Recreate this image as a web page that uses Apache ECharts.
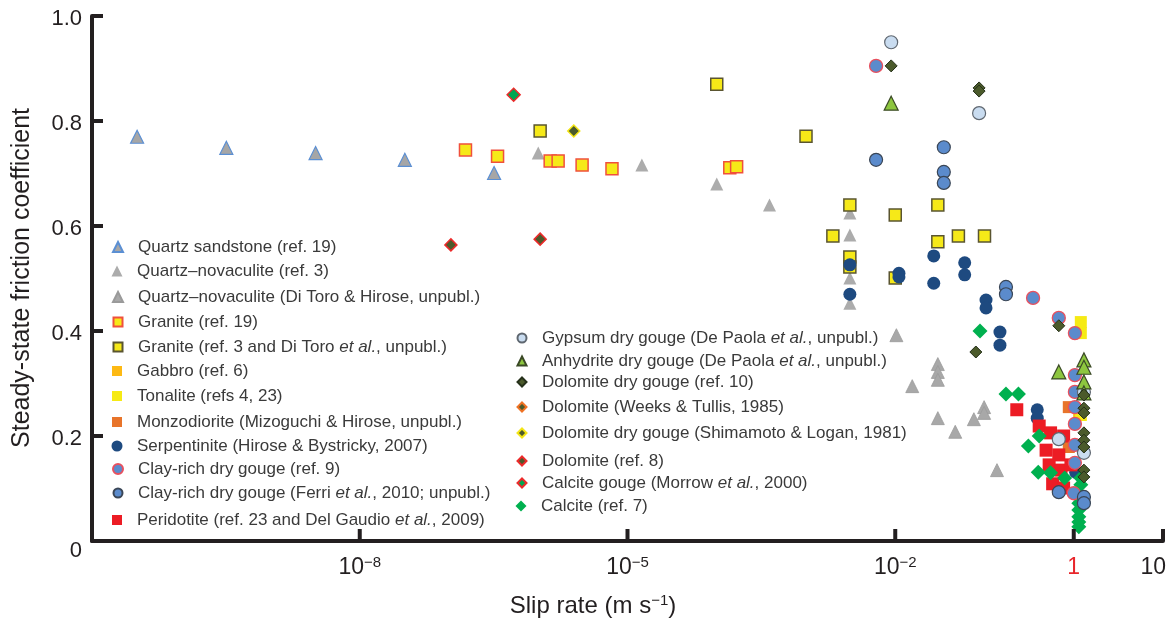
<!DOCTYPE html>
<html><head><meta charset="utf-8">
<script src="https://cdn.jsdelivr.net/npm/echarts@6/dist/echarts.min.js"></script>
<style>html,body{margin:0;padding:0;background:#fff}#c{width:1174px;height:623px}</style>
</head><body><div id="c"></div>
<script>
// ---------- DATA (slip rate in m/s, steady-state friction coefficient) ----------
const xTicks = [1e-8, 1e-5, 1e-2, 1, 10];
const xTickLabels = ['10^−8', '10^−5', '10^−2', '1', '10'];
const yTicks = [0, 0.2, 0.4, 0.6, 0.8, 1.0];

const quartzSandstone = [[3.2e-11,0.770],[3.2e-10,0.749],[3.2e-9,0.739],[3.2e-8,0.726],[3.2e-7,0.701]];
const quartzNovRef3 = [[1.0e-6,0.739],[1.45e-5,0.716],[1.0e-4,0.680],[3.9e-4,0.640],[3.1e-3,0.625],[3.1e-3,0.583],[3.1e-3,0.501],[3.1e-3,0.453]];
const quartzNovDiToro = [[1.03e-2,0.392],[3.0e-2,0.337],[3.0e-2,0.322],[3.0e-2,0.307],[1.55e-2,0.295],[3.0e-2,0.234],[4.7e-2,0.208],[7.6e-2,0.232],[9.9e-2,0.255],[9.9e-2,0.244],[1.38e-1,0.135]];
const graniteRef19 = [[1.53e-7,0.745],[3.5e-7,0.733],[1.36e-6,0.724],[1.67e-6,0.724],[3.1e-6,0.716],[6.7e-6,0.709],[1.4e-4,0.711],[1.67e-4,0.713]];
const graniteRef3 = [[1.05e-6,0.781],[1.0e-4,0.870],[1.0e-3,0.771],[3.1e-3,0.640],[1.0e-2,0.621],[3.0e-2,0.640],[2.0e-3,0.581],[5.1e-2,0.581],[1.0e-1,0.581],[3.0e-2,0.570],[3.1e-3,0.541],[3.1e-3,0.522],[1.0e-2,0.501]];
const gabbro = [[1.15,0.245]];
const tonalite = [[1.2,0.417],[1.2,0.396],[1.2,0.240]];
const monzodiorite = [[0.88,0.255],[0.88,0.179]];
const serpentinite = [[3.1e-3,0.526],[3.1e-3,0.470],[1.1e-2,0.510],[1.1e-2,0.503],[2.7e-2,0.543],[2.7e-2,0.491],[6.0e-2,0.530],[6.0e-2,0.507],[1.04e-1,0.459],[1.04e-1,0.444],[1.49e-1,0.398],[1.49e-1,0.373],[3.9e-1,0.250],[3.9e-1,0.234],[1.05,0.131]];
const clayRef9 = [[6.1e-3,0.905],[3.5e-1,0.463],[6.8e-1,0.425],[1.03,0.396],[1.03,0.316],[1.03,0.284],[1.03,0.255],[1.03,0.223],[1.03,0.183],[1.03,0.149],[1.0,0.091]];
const clayFerri = [[6.1e-3,0.726],[3.5e-2,0.750],[3.5e-2,0.703],[3.5e-2,0.682],[1.74e-1,0.484],[1.74e-1,0.470],[6.8e-1,0.093],[1.3,0.084],[1.3,0.072]];
const peridotite = [[2.3e-1,0.250],[4.1e-1,0.219],[5.5e-1,0.206],[7.7e-1,0.200],[4.9e-1,0.173],[6.8e-1,0.164],[5.3e-1,0.145],[7.2e-1,0.135],[5.8e-1,0.109],[7.7e-1,0.101],[9.3e-1,0.145]];
const gypsum = [[9.0e-3,0.950],[8.7e-2,0.815],[6.8e-1,0.194],[1.3,0.168],[1.3,0.284]];
const anhydrite = [[9.0e-3,0.834],[6.8e-1,0.322],[1.3,0.345],[1.3,0.331],[1.3,0.303],[1.3,0.282]];
const dolomiteRef10 = [[9.0e-3,0.905],[8.7e-2,0.863],[8.7e-2,0.857],[8.0e-2,0.360],[6.8e-1,0.410],[1.3,0.278],[1.3,0.253],[1.3,0.244],[1.3,0.206],[1.3,0.192],[1.3,0.179],[1.3,0.135],[1.3,0.122]];
const dolomiteWeeks = [];
const dolomiteShimamoto = [[2.5e-6,0.781]];
const dolomiteRef8 = [[1.05e-7,0.564],[1.05e-6,0.575]];
const calciteMorrow = [[5.3e-7,0.850]];
const calciteRef7 = [[8.9e-2,0.400],[1.74e-1,0.280],[2.4e-1,0.280],[4.1e-1,0.200],[3.1e-1,0.181],[4.0e-1,0.131],[5.5e-1,0.130],[7.9e-1,0.120],[1.2,0.120],[1.2,0.107],[1.14,0.088],[1.14,0.072],[1.14,0.059],[1.14,0.046],[1.14,0.036],[1.14,0.027]];

// ---------- STYLE ----------
const FONT = 'Liberation Sans, Arial, Helvetica, sans-serif';
const INK = '#231f20';
const TXT = '#3a3a3a';

function sc(name, data, symbol, size, color, border, bw, z) {
  return {
    type: 'scatter', name: name, data: data, symbol: symbol, symbolSize: size, z: z || 2,
    itemStyle: { color: color, borderColor: border || color, borderWidth: border ? (bw || 1) : 0, opacity: 1 },
    emphasis: { disabled: true }, silent: true
  };
}

const N = {
  qs: 'Quartz sandstone (ref. 19)',
  qn3: 'Quartz–novaculite (ref. 3)',
  qnd: 'Quartz–novaculite (Di Toro & Hirose, unpubl.)',
  g19: 'Granite (ref. 19)',
  g3: 'Granite (ref. 3 and Di Toro et al., unpubl.)',
  gab: 'Gabbro (ref. 6)',
  ton: 'Tonalite (refs 4, 23)',
  mon: 'Monzodiorite (Mizoguchi & Hirose, unpubl.)',
  ser: 'Serpentinite (Hirose & Bystricky, 2007)',
  c9: 'Clay-rich dry gouge (ref. 9)',
  cf: 'Clay-rich dry gouge (Ferri et al., 2010; unpubl.)',
  per: 'Peridotite (ref. 23 and Del Gaudio et al., 2009)',
  gyp: 'Gypsum dry gouge (De Paola et al., unpubl.)',
  anh: 'Anhydrite dry gouge (De Paola et al., unpubl.)',
  d10: 'Dolomite dry gouge (ref. 10)',
  dw: 'Dolomite (Weeks & Tullis, 1985)',
  ds: 'Dolomite dry gouge (Shimamoto & Logan, 1981)',
  d8: 'Dolomite (ref. 8)',
  cm: 'Calcite gouge (Morrow et al., 2000)',
  c7: 'Calcite (ref. 7)'
};

const OLIVE = '#4b5a2b';
const series = [
  sc(N.qs, quartzSandstone, 'triangle', 13, '#a6a6a6', '#5b8fd3', 1.2),
  sc(N.qn3, quartzNovRef3, 'triangle', 13, '#acacac'),
  sc(N.qnd, quartzNovDiToro, 'triangle', 13, '#a8a8a8', '#9a9a9a', 0.8),
  sc(N.g19, graniteRef19, 'rect', 12, '#f6e918', '#f0503c', 1.5),
  sc(N.g3, graniteRef3, 'rect', 12, '#f6e918', '#5a5530', 1.5),
  sc(N.gab, gabbro, 'rect', 12, '#fdb913'),
  sc(N.ton, tonalite, 'rect', 12, '#f6ea14'),
  sc(N.mon, monzodiorite, 'rect', 12, '#e8742a'),
  sc(N.ser, serpentinite, 'circle', 13, '#1e4a80'),
  sc(N.per, peridotite, 'rect', 13, '#ec1c24'),
  sc(N.c7, calciteRef7, 'diamond', 15, '#00b04f'),
  sc(N.c9, clayRef9, 'circle', 13, '#5b8bcc', '#e8505e', 1.3),
  sc(N.cf, clayFerri, 'circle', 13, '#5b8bcc', '#3a4656', 1.2),
  sc(N.gyp, gypsum, 'circle', 13, '#c9dcf0', '#5f6770', 1.2),
  sc(N.anh, anhydrite, 'triangle', 14, '#8dc63f', '#3b4a26', 1.2),
  sc(N.d10, dolomiteRef10, 'diamond', 12, OLIVE, '#25301a', 1),
  sc(N.dw, dolomiteWeeks, 'diamond', 12, OLIVE, '#ef7224', 1.5),
  sc(N.ds, dolomiteShimamoto, 'diamond', 12, OLIVE, '#f3e516', 1.5),
  sc(N.d8, dolomiteRef8, 'diamond', 12, OLIVE, '#ec2a2a', 1.5),
  sc(N.cm, calciteMorrow, 'diamond', 13, '#00a651', '#ec2a2a', 1.5)
];

// x-axis ticks and labels (drawn through the log axis via api.coord)
series.push({
  type: 'custom', name: 'xticks', silent: true, clip: false, z: 10,
  data: xTicks.map(v => [v]),
  renderItem: function (params, api) {
    const v = api.value(0);
    const p = api.coord([v, 0]);
    const lab = xTickLabels[params.dataIndex];
    const parts = lab.split('^');
    let txt;
    if (parts.length > 1) txt = '{b|' + parts[0] + '}{s|' + parts[1] + '}';
    else txt = (lab === '1' ? '{r|' : '{b|') + lab + '}';
    const last = params.dataIndex === xTicks.length - 1;
    return {
      type: 'group', children: [
        { type: 'line', shape: { x1: p[0], y1: p[1], x2: p[0], y2: p[1] - 12 }, style: { stroke: INK, lineWidth: 4 } },
        { type: 'text', x: last ? p[0] + 3 : p[0], y: p[1] + 27, style: {
            text: txt, align: last ? 'right' : 'center', verticalAlign: 'middle',
            rich: {
              b: { fontSize: 23, fontFamily: FONT, fill: INK },
              s: { fontSize: 15, fontFamily: FONT, fill: INK, padding: [0, 0, 10, 0] },
              r: { fontSize: 23, fontFamily: FONT, fill: '#e8262b' }
            } } }
      ]
    };
  }
});

// legend placements: [name, iconCenterX, iconCenterY, iconSize]
const legendPos = [
  [N.qs, 117, 247, 10], [N.qn3, 117, 271, 11], [N.qnd, 117, 297, 10], [N.g19, 117, 322, 9], [N.g3, 117, 347, 9],
  [N.gab, 117, 371, 10], [N.ton, 117, 396, 10], [N.mon, 117, 422, 10], [N.ser, 117, 446, 11], [N.c9, 117, 469, 10],
  [N.cf, 117, 493, 9], [N.per, 117, 520, 10],
  [N.gyp, 521, 338, 9], [N.anh, 521, 361, 9], [N.d10, 521, 382, 9], [N.dw, 521, 407, 9], [N.ds, 521, 433, 9],
  [N.d8, 521, 461, 9], [N.cm, 521, 483, 9], [N.c7, 521, 506, 11]
];
function legFmt(name) { return name.replace('et al.', '{i|et al.}'); }
const legends = legendPos.map(([name, cx, cy, s]) => ({
  data: [name], left: cx - s / 2, top: cy - 10, padding: 0, itemGap: 0,
  itemWidth: s, itemHeight: s, selectedMode: false, formatter: legFmt,
  textStyle: {
    fontSize: 17, fontFamily: FONT, color: TXT, lineHeight: 20, padding: [0, 0, 0, 15 - s / 2],
    rich: { i: { fontSize: 17, fontFamily: FONT, color: TXT, fontStyle: 'italic', lineHeight: 20 } }
  }
}));

const option = {
  animation: false,
  backgroundColor: '#ffffff',
  grid: { left: 92, right: 11, top: 16, bottom: 82, containLabel: false },
  xAxis: {
    type: 'log', logBase: 10, min: 1e-11, max: 10,
    axisLine: { show: true, onZero: false, lineStyle: { color: INK, width: 4 } },
    axisTick: { show: false }, axisLabel: { show: false }, splitLine: { show: false }
  },
  yAxis: {
    type: 'value', min: yTicks[0], max: yTicks[yTicks.length - 1], interval: 0.2,
    axisLine: { show: true, lineStyle: { color: INK, width: 4 } },
    axisTick: { show: true, inside: true, length: 11, lineStyle: { color: INK, width: 4 } },
    splitLine: { show: false },
    axisLabel: {
      margin: 10, fontSize: 22, fontFamily: FONT, color: INK, padding: [5, 0, 0, 0],
      formatter: v => (Math.abs(v) < 1e-9 ? '{z|0}' : v.toFixed(1)),
      rich: { z: { fontSize: 22, fontFamily: FONT, color: INK, padding: [14, 0, 0, 0] } }
    }
  },
  legend: legends,
  graphic: [
    { type: 'text', x: 22, y: 278, rotation: Math.PI / 2, silent: true,
      style: { text: 'Steady-state friction coefficient', fontSize: 25, fontFamily: FONT, fill: INK, align: 'center', verticalAlign: 'middle' } },
    { type: 'text', x: 593, y: 606, silent: true,
      style: { text: '{a|Slip rate (m s}{s|−1}{a|)}', align: 'center', verticalAlign: 'middle',
        rich: { a: { fontSize: 24, fontFamily: FONT, fill: INK }, s: { fontSize: 15, fontFamily: FONT, fill: INK, padding: [0, 0, 11, 0] } } } }
  ],
  series: series
};
const chart = echarts.init(document.getElementById('c'), null, { renderer: 'canvas' });
chart.setOption(option);
</script>
</body></html>
